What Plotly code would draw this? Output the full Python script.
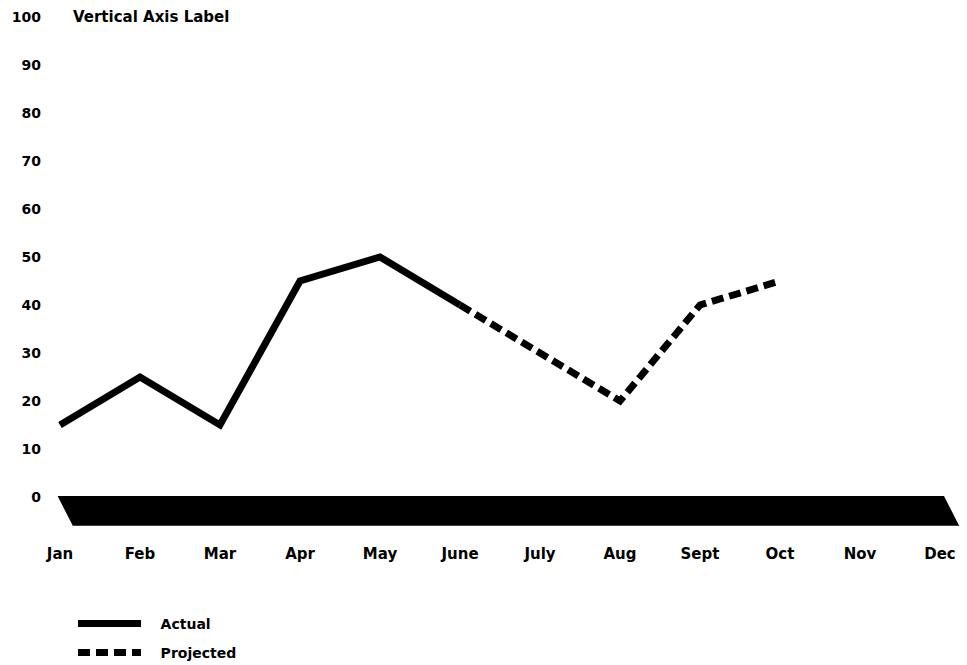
import plotly.graph_objects as go

# Monthly values
months = ["Jan", "Feb", "Mar", "Apr", "May", "June", "July", "Aug", "Sept", "Oct", "Nov", "Dec"]
actual = [15, 25, 15, 45, 50, 40, None, None, None, None, None, None]
projected = [None, None, None, None, None, 40, 30, 20, 40, 45, None, None]
y_ticks = [0, 10, 20, 30, 40, 50, 60, 70, 80, 90, 100]

idx = list(range(len(months)))
FONT = "DejaVu Sans, Liberation Sans, Arial, sans-serif"
INK = "#000000"
PAD = "\u00a0\u00a0\u00a0"  # gap between legend swatch and its text

fig = go.Figure()

# Slanted floor band beneath the zero line
first, last = idx[0], idx[-1]
top, depth = 0.2, -6.0
floor_x = [first - 0.03, last + 0.05, last + 0.24, first + 0.16, first - 0.03]
floor_y = [top, top, depth, depth, top]
fig.add_trace(go.Scatter(
    x=floor_x, y=floor_y, fill="toself", fillcolor=INK,
    line=dict(color=INK, width=0), mode="lines",
    showlegend=False, hoverinfo="skip",
))

fig.add_trace(go.Scatter(
    x=idx, y=actual, name=PAD + "Actual", mode="lines",
    line=dict(color=INK, width=7), legend="legend",
))
fig.add_trace(go.Scatter(
    x=idx, y=projected, name=PAD + "Projected", mode="lines",
    line=dict(color=INK, width=7, dash="12px,6px"), legend="legend2",
))

L, T, B = 46, 10, 528
zero_px = 497
px_per_unit = 4.8
x0_px, x_step = 60, 80.0
W, H = 967, 665

legend_style = dict(
    xref="container", yref="container",
    xanchor="left", yanchor="middle", itemwidth=63,
    bgcolor="rgba(0,0,0,0)",
    font=dict(family=FONT, size=14, color=INK, weight="bold"),
)

fig.update_layout(
    width=W, height=H,
    margin=dict(l=L, r=0, t=T, b=H - B, autoexpand=False),
    paper_bgcolor="white", plot_bgcolor="white",
    font=dict(family=FONT, color=INK, size=13, weight="bold"),
    xaxis=dict(
        range=[(L - x0_px) / x_step, (W - x0_px) / x_step],
        tickmode="array", tickvals=idx, ticktext=months,
        showgrid=False, zeroline=False, showline=False, ticks="",
        ticklabelstandoff=15,
        tickfont=dict(family=FONT, size=15, color=INK, weight="bold"),
    ),
    yaxis=dict(
        range=[(zero_px - B) / px_per_unit, (zero_px - T) / px_per_unit],
        tickmode="array", tickvals=y_ticks,
        showgrid=False, zeroline=False, showline=False, ticks="",
        ticklabelstandoff=4,
        tickfont=dict(family=FONT, size=14, color=INK, weight="bold"),
    ),
    legend=dict(x=73 / W, y=1 - 624 / H, **legend_style),
    legend2=dict(x=73 / W, y=1 - 653 / H, **legend_style),
    annotations=[dict(
        text="Vertical Axis Label", xref="paper", yref="y",
        x=(71 - L) / (W - L), y=100, xanchor="left", yanchor="middle",
        showarrow=False, font=dict(family=FONT, size=15, color=INK, weight="bold"),
    )],
)

fig.write_html("out.html")
